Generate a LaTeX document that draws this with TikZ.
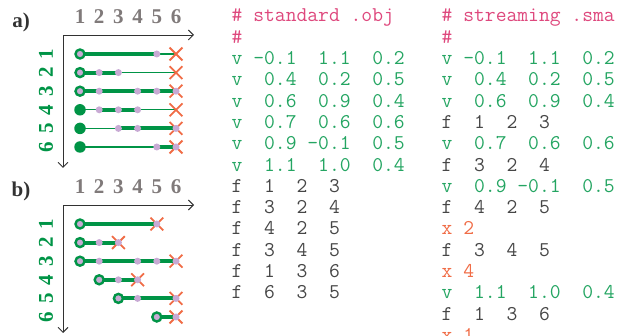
\documentclass[tikz,border=0pt]{standalone}
\usepackage{fontspec}
\setmainfont{Liberation Serif}
\usetikzlibrary{arrows.meta,shapes.misc}
\definecolor{dgreen}{RGB}{0,148,70}
\definecolor{cgreen}{RGB}{36,165,98}
\definecolor{lav}{RGB}{200,170,212}
\definecolor{orng}{RGB}{240,108,70}
\definecolor{pinkc}{RGB}{222,72,125}
\definecolor{fgray}{RGB}{70,70,70}
\definecolor{lgray}{RGB}{128,122,122}
\definecolor{axc}{RGB}{50,50,50}
\tikzset{
  axis/.style={draw=axc,line width=0.9pt,{Straight Barb[length=5pt,width=10pt]}-{Straight Barb[length=5pt,width=10pt]}},
  thk/.style={draw=dgreen,line width=4pt},
  thn/.style={draw=dgreen,line width=1.2pt},
  dotn/.style={circle,fill=lav,inner sep=0pt,minimum size=7pt},
  opn/.style={circle,draw=dgreen,line width=2.4pt,fill=lav,inner sep=0pt,minimum size=9pt},
  fln/.style={circle,fill=dgreen,inner sep=0pt,minimum size=11.5pt},
  xm/.style={cross out,draw=orng,line width=1.8pt,inner sep=0pt,minimum size=11pt},
  toplab/.style={font=\fontsize{21}{21}\selectfont\bfseries,text=lgray,anchor=base,inner sep=0pt},
  sidelab/.style={font=\fontsize{21}{21}\selectfont\bfseries,text=dgreen,rotate=90,inner sep=0pt},
  panel/.style={font=\fontsize{21}{21}\selectfont\bfseries,text=axc,anchor=base,inner sep=0pt},
  code/.style={font=\ttfamily\fontsize{21}{21}\selectfont,anchor=base west,inner sep=0pt},
}
\begin{document}
\begin{tikzpicture}[x=1pt,y=-1pt]
\useasboundingbox (0,0) rectangle (626,336);
\clip (0,0) rectangle (626,336);
% grid coordinates
\foreach \d/\off in {a/0,b/170}{
  \foreach \r in {1,...,6}{
    \foreach \c in {1,...,6}{
      \coordinate (\d\r\c) at ({80+19.2*(\c-1)},{54+18.6*(\r-1)+\off});
    }
  }
}
% axes
\coordinate (aox) at (194,35); \coordinate (aoc) at (63,35); \coordinate (aoy) at (63,168);
\coordinate (box) at (194,205); \coordinate (boc) at (63,205); \coordinate (boy) at (63,333);
\draw[axis] (aox) -- (aoc) -- (aoy);
\draw[axis] (box) -- (boc) -- (boy);
% panel labels
\node[panel] (pa) at (21,28) {a)};
\node[panel] (pb) at (21,197) {b)};
% top and side labels
\foreach \d/\off in {a/0,b/170}{
  \foreach \c in {1,...,6}{
    \node[toplab] (\d t\c) at ({80+19.2*(\c-1)},{24+\off}) {\c};
    \node[sidelab] (\d s\c) at ({46},{54+18.6*(\c-1)+\off}) {\c};
  }
}
% diagram a lines
\draw[thk] (a11) -- (a15); \draw[thn] (a15) -- (a16);
\draw[thk] (a21) -- (a23); \draw[thn] (a23) -- (a26);
\draw[thk] (a31) -- (a36);
\draw[thn] (a41) -- (a42); \draw[thk] (a42) -- (a44); \draw[thn] (a44) -- (a46);
\draw[thn] (a51) -- (a53); \draw[thk] (a53) -- (a56);
\draw[thn] (a61) -- (a65); \draw[thk] (a65) -- (a66);
% diagram b lines
\draw[thk] (b11) -- (b15);
\draw[thk] (b21) -- (b23);
\draw[thk] (b31) -- (b36);
\draw[thk] (b42) -- (b44);
\draw[thk] (b53) -- (b56);
\draw[thk] (b65) -- (b66);
% crosses
\foreach \n in {a16,a26,a36,a46,a56,a66,b15,b23,b36,b44,b56,b66}
  \node[xm] (x\n) at (\n) {};
% dots
\foreach \n in {a15,a22,a23,a32,a34,a35,a36,a42,a43,a44,a53,a54,a56,a65,a66,
                b15,b22,b23,b32,b34,b35,b36,b43,b44,b54,b56,b66}
  \node[dotn] (d\n) at (\n) {};
% start circles
\foreach \n in {a11,a21,a31,b11,b21,b31,b42,b53,b65}
  \node[opn] (o\n) at (\n) {};
\foreach \n in {a41,a51,a61}
  \node[fln] (f\n) at (\n) {};
% code: standard
\foreach \t/\col [count=\i from 0] in {
  {\#~standard~.obj}/pinkc,
  {\#}/pinkc,
  {v~-0.1~~1.1~~0.2}/cgreen,
  {v~~0.4~~0.2~~0.5}/cgreen,
  {v~~0.6~~0.9~~0.4}/cgreen,
  {v~~0.7~~0.6~~0.6}/cgreen,
  {v~~0.9~-0.1~~0.5}/cgreen,
  {v~~1.1~~1.0~~0.4}/cgreen,
  {f~~1~~2~~3}/fgray,
  {f~~3~~2~~4}/fgray,
  {f~~4~~2~~5}/fgray,
  {f~~3~~4~~5}/fgray,
  {f~~1~~3~~6}/fgray,
  {f~~6~~3~~5}/fgray}
  \node[code,text=\col] (s\i) at (231.5,{22+21.3*\i}) {\t};
% code: streaming
\foreach \t/\col [count=\i from 0] in {
  {\#~streaming~.sma}/pinkc,
  {\#}/pinkc,
  {v~-0.1~~1.1~~0.2}/cgreen,
  {v~~0.4~~0.2~~0.5}/cgreen,
  {v~~0.6~~0.9~~0.4}/cgreen,
  {f~~1~~2~~3}/fgray,
  {v~~0.7~~0.6~~0.6}/cgreen,
  {f~~3~~2~~4}/fgray,
  {v~~0.9~-0.1~~0.5}/cgreen,
  {f~~4~~2~~5}/fgray,
  {x~2}/orng,
  {f~~3~~4~~5}/fgray,
  {x~4}/orng,
  {v~~1.1~~1.0~~0.4}/cgreen,
  {f~~1~~3~~6}/fgray,
  {x~1}/orng}
  \node[code,text=\col] (m\i) at (441.5,{22+21.3*\i}) {\t};
\end{tikzpicture}
\end{document}
